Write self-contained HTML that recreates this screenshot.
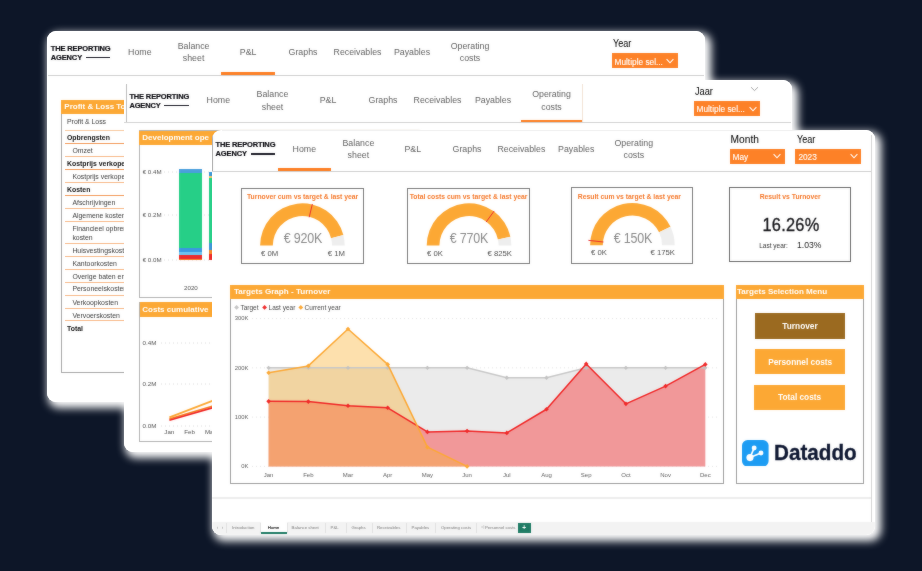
<!DOCTYPE html>
<html lang="en"><head><meta charset="utf-8"><title>Dataddo – The Reporting Agency dashboards</title>
<style>
html,body{margin:0;padding:0;}
body{width:922px;height:571px;overflow:hidden;background:#0d1628;font-family:"Liberation Sans", sans-serif;position:relative;}
.stage{position:absolute;left:0;top:0;width:922px;height:571px;overflow:hidden;}
.panel{position:absolute;background:#fff;overflow:hidden;}
.glow{position:absolute;background:#fff;box-shadow:3.6px 4px 8.5px 2px rgba(255,255,255,1);}
.in{position:absolute;width:922px;height:571px;filter:url(#sb);}
.t{position:absolute;white-space:nowrap;line-height:1;display:block;}
.r{position:absolute;display:block;}
</style></head><body><svg width="0" height="0" style="position:absolute"><defs><filter id="sb" x="0" y="0" width="100%" height="100%" color-interpolation-filters="sRGB"><feGaussianBlur in="SourceGraphic" stdDeviation="0.8" result="b"/><feComposite in="SourceGraphic" in2="b" operator="arithmetic" k1="0" k2="0.7" k3="0.3" k4="0"/></filter></defs></svg><div class="stage">
<div class="glow" style="left:47.4px;top:31.2px;width:657.6px;height:370.5px;border-radius:9px;"></div>
<div class="panel" style="left:47.4px;top:31.2px;width:657.6px;height:370.5px;border-radius:9px;z-index:1"><div class="in" style="left:-47.4px;top:-31.2px"><span class="t" style="left:50.80px;top:48.70px;font-size:7.5px;color:#0c0c12;font-weight:700;transform:translate(0,-50%);transform-origin:left center;letter-spacing:-0.15px;-webkit-text-stroke:0.2px #0c0c12;">THE REPORTING</span><span class="t" style="left:50.80px;top:57.60px;font-size:7.5px;color:#0c0c12;font-weight:700;transform:translate(0,-50%);transform-origin:left center;letter-spacing:-0.15px;-webkit-text-stroke:0.2px #0c0c12;">AGENCY</span><div class="r" style="left:85.80px;top:56.70px;width:24.60px;height:1.40px;background:#1c1c26;"></div><span class="t" style="left:139.80px;top:52.20px;font-size:8.8px;color:#626262;font-weight:400;transform:translate(-50%,-50%);transform-origin:center center;text-align:center;line-height:12.3px;">Home</span><span class="t" style="left:193.60px;top:52.20px;font-size:8.8px;color:#626262;font-weight:400;transform:translate(-50%,-50%);transform-origin:center center;text-align:center;line-height:12.3px;">Balance<br>sheet</span><span class="t" style="left:248.20px;top:52.20px;font-size:8.8px;color:#626262;font-weight:400;transform:translate(-50%,-50%);transform-origin:center center;text-align:center;line-height:12.3px;">P&amp;L</span><span class="t" style="left:303.00px;top:52.20px;font-size:8.8px;color:#626262;font-weight:400;transform:translate(-50%,-50%);transform-origin:center center;text-align:center;line-height:12.3px;">Graphs</span><span class="t" style="left:357.50px;top:52.20px;font-size:8.8px;color:#626262;font-weight:400;transform:translate(-50%,-50%);transform-origin:center center;text-align:center;line-height:12.3px;">Receivables</span><span class="t" style="left:412.00px;top:52.20px;font-size:8.8px;color:#626262;font-weight:400;transform:translate(-50%,-50%);transform-origin:center center;text-align:center;line-height:12.3px;">Payables</span><span class="t" style="left:470.00px;top:52.20px;font-size:8.8px;color:#626262;font-weight:400;transform:translate(-50%,-50%);transform-origin:center center;text-align:center;line-height:12.3px;">Operating<br>costs</span><div class="r" style="left:220.50px;top:71.80px;width:54.50px;height:2.80px;background:#fd7e22;"></div><div class="r" style="left:48.00px;top:74.60px;width:656.00px;height:0.80px;background:#cfcfcf;"></div><span class="t" style="left:612.50px;top:43.90px;font-size:10.2px;color:#0a0a0a;font-weight:400;transform:translate(0,-50%) scaleX(0.89);transform-origin:left center;-webkit-text-stroke:0.05px #0a0a0a;">Year</span><div class="r" style="left:611.50px;top:53.30px;width:66.00px;height:14.70px;background:#fd8127;"></div><span class="t" style="left:614.50px;top:61.65px;font-size:8.3px;color:#fff;font-weight:400;transform:translate(0,-50%);transform-origin:left center;-webkit-text-stroke:0.12px #fff;">Multiple sel...</span><svg class="r" style="left:666.30px;top:57.95px;width:8px;height:6px" viewBox="0 0 8 6"><path d="M0.6 1.2 L4 4.8 L7.4 1.2" fill="none" stroke="#fff" stroke-width="1.1"/></svg><div class="r" style="left:61.20px;top:99.80px;width:198.80px;height:273.00px;background:#fff;border:1px solid #a8a8a8;box-sizing:border-box;"></div><div class="r" style="left:61.20px;top:99.80px;width:198.80px;height:13.80px;background:#fca834;"></div><span class="t" style="left:64.30px;top:106.80px;font-size:8.0px;color:#fff;font-weight:700;transform:translate(0,-50%);transform-origin:left center;">Profit &amp; Loss To</span><span class="t" style="left:67.00px;top:121.70px;font-size:6.9px;color:#3a3a3a;font-weight:400;transform:translate(0,-50%);transform-origin:left center;">Profit &amp; Loss</span><div class="r" style="left:64.50px;top:129.80px;width:195.50px;height:0.80px;background:#f7c9a0;"></div><span class="t" style="left:67.00px;top:136.60px;font-size:6.9px;color:#111;font-weight:700;transform:translate(0,-50%);transform-origin:left center;line-height:9px;">Opbrengsten</span><div class="r" style="left:64.50px;top:142.90px;width:195.50px;height:0.80px;background:#f39a5a;"></div><span class="t" style="left:72.40px;top:150.00px;font-size:6.9px;color:#3a3a3a;font-weight:400;transform:translate(0,-50%);transform-origin:left center;line-height:9px;">Omzet</span><div class="r" style="left:64.50px;top:156.10px;width:195.50px;height:0.80px;background:#f7b98a;"></div><span class="t" style="left:67.00px;top:162.80px;font-size:6.9px;color:#111;font-weight:700;transform:translate(0,-50%);transform-origin:left center;line-height:9px;">Kostprijs verkope</span><div class="r" style="left:64.50px;top:169.20px;width:195.50px;height:0.80px;background:#f39a5a;"></div><span class="t" style="left:72.40px;top:176.20px;font-size:6.9px;color:#3a3a3a;font-weight:400;transform:translate(0,-50%);transform-origin:left center;line-height:9px;">Kostprijs verkope</span><div class="r" style="left:64.50px;top:182.00px;width:195.50px;height:0.80px;background:#f7b98a;"></div><span class="t" style="left:67.00px;top:189.30px;font-size:6.9px;color:#111;font-weight:700;transform:translate(0,-50%);transform-origin:left center;line-height:9px;">Kosten</span><div class="r" style="left:64.50px;top:195.00px;width:195.50px;height:0.80px;background:#f39a5a;"></div><span class="t" style="left:72.40px;top:202.20px;font-size:6.9px;color:#3a3a3a;font-weight:400;transform:translate(0,-50%);transform-origin:left center;line-height:9px;">Afschrijvingen</span><div class="r" style="left:64.50px;top:208.00px;width:195.50px;height:0.80px;background:#f7b98a;"></div><span class="t" style="left:72.40px;top:215.20px;font-size:6.9px;color:#3a3a3a;font-weight:400;transform:translate(0,-50%);transform-origin:left center;line-height:9px;">Algemene kosten</span><div class="r" style="left:64.50px;top:220.90px;width:195.50px;height:0.80px;background:#f7b98a;"></div><span class="t" style="left:72.40px;top:233.00px;font-size:6.9px;color:#3a3a3a;font-weight:400;transform:translate(0,-50%);transform-origin:left center;line-height:9px;">Financieel opbren<br>kosten</span><div class="r" style="left:64.50px;top:242.90px;width:195.50px;height:0.80px;background:#f7b98a;"></div><span class="t" style="left:72.40px;top:250.10px;font-size:6.9px;color:#3a3a3a;font-weight:400;transform:translate(0,-50%);transform-origin:left center;line-height:9px;">Huisvestingskosten</span><div class="r" style="left:64.50px;top:255.90px;width:195.50px;height:0.80px;background:#f7b98a;"></div><span class="t" style="left:72.40px;top:262.60px;font-size:6.9px;color:#3a3a3a;font-weight:400;transform:translate(0,-50%);transform-origin:left center;line-height:9px;">Kantoorkosten</span><div class="r" style="left:64.50px;top:269.30px;width:195.50px;height:0.80px;background:#f7b98a;"></div><span class="t" style="left:72.40px;top:275.60px;font-size:6.9px;color:#3a3a3a;font-weight:400;transform:translate(0,-50%);transform-origin:left center;line-height:9px;">Overige baten en</span><div class="r" style="left:64.50px;top:282.10px;width:195.50px;height:0.80px;background:#f7b98a;"></div><span class="t" style="left:72.40px;top:287.90px;font-size:6.9px;color:#3a3a3a;font-weight:400;transform:translate(0,-50%);transform-origin:left center;line-height:9px;">Personeelskosten</span><div class="r" style="left:64.50px;top:295.10px;width:195.50px;height:0.80px;background:#f7b98a;"></div><span class="t" style="left:72.40px;top:301.60px;font-size:6.9px;color:#3a3a3a;font-weight:400;transform:translate(0,-50%);transform-origin:left center;line-height:9px;">Verkoopkosten</span><div class="r" style="left:64.50px;top:308.00px;width:195.50px;height:0.80px;background:#f7b98a;"></div><span class="t" style="left:72.40px;top:314.80px;font-size:6.9px;color:#3a3a3a;font-weight:400;transform:translate(0,-50%);transform-origin:left center;line-height:9px;">Vervoerskosten</span><div class="r" style="left:64.50px;top:320.40px;width:195.50px;height:0.80px;background:#f7b98a;"></div><span class="t" style="left:67.00px;top:327.60px;font-size:6.9px;color:#111;font-weight:700;transform:translate(0,-50%);transform-origin:left center;line-height:9px;">Total</span></div></div>
<div class="glow" style="left:124px;top:79.8px;width:667.7px;height:371.8px;border-radius:9px;"></div>
<div class="panel" style="left:124px;top:79.8px;width:667.7px;height:371.8px;border-radius:9px;z-index:1"><div class="in" style="left:-124px;top:-79.8px"><div class="r" style="left:126.00px;top:83.50px;width:0.80px;height:38.50px;background:#bdbdbd;"></div><span class="t" style="left:129.40px;top:96.60px;font-size:7.5px;color:#0c0c12;font-weight:700;transform:translate(0,-50%);transform-origin:left center;letter-spacing:-0.15px;-webkit-text-stroke:0.2px #0c0c12;">THE REPORTING</span><span class="t" style="left:129.40px;top:105.50px;font-size:7.5px;color:#0c0c12;font-weight:700;transform:translate(0,-50%);transform-origin:left center;letter-spacing:-0.15px;-webkit-text-stroke:0.2px #0c0c12;">AGENCY</span><div class="r" style="left:164.40px;top:104.60px;width:24.60px;height:1.40px;background:#1c1c26;"></div><span class="t" style="left:218.30px;top:100.30px;font-size:8.8px;color:#626262;font-weight:400;transform:translate(-50%,-50%);transform-origin:center center;text-align:center;line-height:12.3px;">Home</span><span class="t" style="left:272.50px;top:100.30px;font-size:8.8px;color:#626262;font-weight:400;transform:translate(-50%,-50%);transform-origin:center center;text-align:center;line-height:12.3px;">Balance<br>sheet</span><span class="t" style="left:328.00px;top:100.30px;font-size:8.8px;color:#626262;font-weight:400;transform:translate(-50%,-50%);transform-origin:center center;text-align:center;line-height:12.3px;">P&amp;L</span><span class="t" style="left:383.00px;top:100.30px;font-size:8.8px;color:#626262;font-weight:400;transform:translate(-50%,-50%);transform-origin:center center;text-align:center;line-height:12.3px;">Graphs</span><span class="t" style="left:437.50px;top:100.30px;font-size:8.8px;color:#626262;font-weight:400;transform:translate(-50%,-50%);transform-origin:center center;text-align:center;line-height:12.3px;">Receivables</span><span class="t" style="left:493.00px;top:100.30px;font-size:8.8px;color:#626262;font-weight:400;transform:translate(-50%,-50%);transform-origin:center center;text-align:center;line-height:12.3px;">Payables</span><span class="t" style="left:551.50px;top:100.30px;font-size:8.8px;color:#626262;font-weight:400;transform:translate(-50%,-50%);transform-origin:center center;text-align:center;line-height:12.3px;">Operating<br>costs</span><div class="r" style="left:521.00px;top:119.80px;width:61.50px;height:2.40px;background:#fd7e22;"></div><div class="r" style="left:124.00px;top:122.00px;width:667.00px;height:0.90px;background:#d2d2d2;"></div><div class="r" style="left:582.30px;top:84.00px;width:0.60px;height:38.00px;background:#f3e3d6;"></div><span class="t" style="left:695.00px;top:91.80px;font-size:10.2px;color:#0a0a0a;font-weight:400;transform:translate(0,-50%) scaleX(0.9);transform-origin:left center;-webkit-text-stroke:0.05px #0a0a0a;">Jaar</span><svg class="r" style="left:750px;top:85.5px;width:9px;height:6px" viewBox="0 0 9 6"><path d="M1 1.2 L4.5 4.6 L8 1.2" fill="none" stroke="#9a9a9a" stroke-width="0.9"/></svg><div class="r" style="left:693.50px;top:101.00px;width:66.30px;height:14.80px;background:#fd8127;"></div><span class="t" style="left:696.50px;top:109.40px;font-size:8.3px;color:#fff;font-weight:400;transform:translate(0,-50%);transform-origin:left center;-webkit-text-stroke:0.12px #fff;">Multiple sel...</span><svg class="r" style="left:748.60px;top:105.70px;width:8px;height:6px" viewBox="0 0 8 6"><path d="M0.6 1.2 L4 4.8 L7.4 1.2" fill="none" stroke="#fff" stroke-width="1.1"/></svg><div class="r" style="left:139.00px;top:130.20px;width:281.00px;height:167.60px;background:#fff;border:1px solid #b4b4b4;box-sizing:border-box;"></div><div class="r" style="left:139.00px;top:130.50px;width:281.00px;height:14.20px;background:#fca834;"></div><span class="t" style="left:142.30px;top:137.80px;font-size:8.0px;color:#fff;font-weight:700;transform:translate(0,-50%);transform-origin:left center;">Development ope</span><span class="t" style="left:142.70px;top:171.70px;font-size:6.2px;color:#505050;font-weight:400;transform:translate(0,-50%);transform-origin:left center;">€ 0.4M</span><svg class="r" style="left:164.00px;top:170.70px;width:256.00px;height:2px" viewBox="0 0 256.00 2"><path d="M0 1 H256.00" stroke="#d8d8d8" stroke-width="0.9" stroke-dasharray="1 3"/></svg><span class="t" style="left:142.70px;top:215.40px;font-size:6.2px;color:#505050;font-weight:400;transform:translate(0,-50%);transform-origin:left center;">€ 0.2M</span><svg class="r" style="left:164.00px;top:214.40px;width:256.00px;height:2px" viewBox="0 0 256.00 2"><path d="M0 1 H256.00" stroke="#d8d8d8" stroke-width="0.9" stroke-dasharray="1 3"/></svg><span class="t" style="left:142.70px;top:259.50px;font-size:6.2px;color:#505050;font-weight:400;transform:translate(0,-50%);transform-origin:left center;">€ 0.0M</span><svg class="r" style="left:164.00px;top:258.50px;width:256.00px;height:2px" viewBox="0 0 256.00 2"><path d="M0 1 H256.00" stroke="#d8d8d8" stroke-width="0.9" stroke-dasharray="1 3"/></svg><div class="r" style="left:179.00px;top:169.40px;width:23.20px;height:90.60px;background:#26cf87;"></div><div class="r" style="left:179.00px;top:169.40px;width:23.20px;height:4.00px;background:#4a9fdc;"></div><div class="r" style="left:179.00px;top:248.40px;width:23.20px;height:3.60px;background:#3a98e0;"></div><div class="r" style="left:179.00px;top:252.00px;width:23.20px;height:3.20px;background:#6cc6f0;"></div><div class="r" style="left:179.00px;top:255.20px;width:23.20px;height:4.00px;background:#ee2a2a;"></div><div class="r" style="left:179.00px;top:259.20px;width:23.20px;height:0.80px;background:#f47b20;"></div><div class="r" style="left:208.90px;top:171.50px;width:3.70px;height:4.50px;background:#3a96d6;"></div><div class="r" style="left:208.90px;top:176.00px;width:3.70px;height:2.00px;background:#f3c86a;"></div><div class="r" style="left:208.90px;top:178.00px;width:3.70px;height:65.00px;background:#26cf87;"></div><div class="r" style="left:208.90px;top:243.00px;width:3.70px;height:6.50px;background:#3a96d6;"></div><div class="r" style="left:208.90px;top:249.50px;width:3.70px;height:4.50px;background:#f58a2a;"></div><div class="r" style="left:208.90px;top:254.00px;width:3.70px;height:5.50px;background:#ee2a2a;"></div><span class="t" style="left:190.90px;top:287.70px;font-size:6.2px;color:#505050;font-weight:400;transform:translate(-50%,-50%);transform-origin:center center;">2020</span><div class="r" style="left:139.00px;top:301.60px;width:281.00px;height:140.00px;background:#fff;border:1px solid #b4b4b4;box-sizing:border-box;"></div><div class="r" style="left:139.60px;top:302.40px;width:280.40px;height:14.20px;background:#fca834;"></div><span class="t" style="left:142.30px;top:309.60px;font-size:8.0px;color:#fff;font-weight:700;transform:translate(0,-50%);transform-origin:left center;">Costs cumulative</span><span class="t" style="left:142.60px;top:342.50px;font-size:6.2px;color:#505050;font-weight:400;transform:translate(0,-50%);transform-origin:left center;">0.4M</span><svg class="r" style="left:160.50px;top:341.70px;width:259.50px;height:2px" viewBox="0 0 259.50 2"><path d="M0 1 H259.50" stroke="#d8d8d8" stroke-width="0.9" stroke-dasharray="1 3"/></svg><span class="t" style="left:142.60px;top:384.10px;font-size:6.2px;color:#505050;font-weight:400;transform:translate(0,-50%);transform-origin:left center;">0.2M</span><svg class="r" style="left:160.50px;top:383.30px;width:259.50px;height:2px" viewBox="0 0 259.50 2"><path d="M0 1 H259.50" stroke="#d8d8d8" stroke-width="0.9" stroke-dasharray="1 3"/></svg><span class="t" style="left:142.60px;top:425.60px;font-size:6.2px;color:#505050;font-weight:400;transform:translate(0,-50%);transform-origin:left center;">0.0M</span><svg class="r" style="left:160.50px;top:424.80px;width:259.50px;height:2px" viewBox="0 0 259.50 2"><path d="M0 1 H259.50" stroke="#d8d8d8" stroke-width="0.9" stroke-dasharray="1 3"/></svg><span class="t" style="left:169.30px;top:431.80px;font-size:6.2px;color:#505050;font-weight:400;transform:translate(-50%,-50%);transform-origin:center center;">Jan</span><span class="t" style="left:189.60px;top:431.80px;font-size:6.2px;color:#505050;font-weight:400;transform:translate(-50%,-50%);transform-origin:center center;">Feb</span><span class="t" style="left:204.95px;top:431.80px;font-size:6.2px;color:#505050;font-weight:400;transform:translate(0,-50%);transform-origin:left center;">Ma</span><svg class="r" style="left:0;top:0;width:922px;height:571px" viewBox="0 0 922 571"><path d="M169.4 417.4 L213 400.6" stroke="#fca834" stroke-width="1.9" fill="none"/><path d="M169.4 419.0 L213 406.0" stroke="#f6801f" stroke-width="1.6" fill="none"/><path d="M169.4 420.2 L213 407.6" stroke="#f02626" stroke-width="1.7" fill="none"/></svg></div></div>
<div class="glow" style="left:212px;top:130px;width:663px;height:404.8px;border-radius:9px;"></div>
<div class="panel" style="left:212px;top:130px;width:663px;height:404.79999999999995px;border-radius:9px;z-index:1"><div class="in" style="left:-212px;top:-130px"><div class="r" style="left:212.00px;top:134.00px;width:0.90px;height:37.00px;background:#a0a0a0;"></div><div class="r" style="left:222.00px;top:130.00px;width:618.00px;height:0.70px;background:#ededed;"></div><span class="t" style="left:215.60px;top:145.20px;font-size:7.5px;color:#0c0c12;font-weight:700;transform:translate(0,-50%);transform-origin:left center;letter-spacing:-0.15px;-webkit-text-stroke:0.2px #0c0c12;">THE REPORTING</span><span class="t" style="left:215.60px;top:154.10px;font-size:7.5px;color:#0c0c12;font-weight:700;transform:translate(0,-50%);transform-origin:left center;letter-spacing:-0.15px;-webkit-text-stroke:0.2px #0c0c12;">AGENCY</span><div class="r" style="left:250.60px;top:153.20px;width:24.60px;height:1.40px;background:#1c1c26;"></div><span class="t" style="left:304.30px;top:148.70px;font-size:8.8px;color:#626262;font-weight:400;transform:translate(-50%,-50%);transform-origin:center center;text-align:center;line-height:12.3px;">Home</span><span class="t" style="left:358.40px;top:148.70px;font-size:8.8px;color:#626262;font-weight:400;transform:translate(-50%,-50%);transform-origin:center center;text-align:center;line-height:12.3px;">Balance<br>sheet</span><span class="t" style="left:412.80px;top:148.70px;font-size:8.8px;color:#626262;font-weight:400;transform:translate(-50%,-50%);transform-origin:center center;text-align:center;line-height:12.3px;">P&amp;L</span><span class="t" style="left:467.00px;top:148.70px;font-size:8.8px;color:#626262;font-weight:400;transform:translate(-50%,-50%);transform-origin:center center;text-align:center;line-height:12.3px;">Graphs</span><span class="t" style="left:521.40px;top:148.70px;font-size:8.8px;color:#626262;font-weight:400;transform:translate(-50%,-50%);transform-origin:center center;text-align:center;line-height:12.3px;">Receivables</span><span class="t" style="left:576.20px;top:148.70px;font-size:8.8px;color:#626262;font-weight:400;transform:translate(-50%,-50%);transform-origin:center center;text-align:center;line-height:12.3px;">Payables</span><span class="t" style="left:633.80px;top:148.70px;font-size:8.8px;color:#626262;font-weight:400;transform:translate(-50%,-50%);transform-origin:center center;text-align:center;line-height:12.3px;">Operating<br>costs</span><div class="r" style="left:277.80px;top:168.40px;width:52.90px;height:2.40px;background:#fd7e22;"></div><div class="r" style="left:212.00px;top:170.70px;width:659.40px;height:1.00px;background:#d0d0d0;"></div><div class="r" style="left:870.60px;top:135.00px;width:0.80px;height:387.00px;background:#d6d6d6;"></div><span class="t" style="left:730.60px;top:139.80px;font-size:10.2px;color:#0a0a0a;font-weight:400;transform:translate(0,-50%);transform-origin:left center;-webkit-text-stroke:0.05px #0a0a0a;">Month</span><span class="t" style="left:796.60px;top:139.80px;font-size:10.2px;color:#0a0a0a;font-weight:400;transform:translate(0,-50%) scaleX(0.89);transform-origin:left center;-webkit-text-stroke:0.05px #0a0a0a;">Year</span><div class="r" style="left:729.60px;top:148.60px;width:55.00px;height:15.00px;background:#fd8127;"></div><span class="t" style="left:732.60px;top:157.10px;font-size:8.3px;color:#fff;font-weight:400;transform:translate(0,-50%);transform-origin:left center;-webkit-text-stroke:0.12px #fff;">May</span><svg class="r" style="left:773.40px;top:153.40px;width:8px;height:6px" viewBox="0 0 8 6"><path d="M0.6 1.2 L4 4.8 L7.4 1.2" fill="none" stroke="#fff" stroke-width="1.1"/></svg><div class="r" style="left:795.40px;top:148.60px;width:65.80px;height:15.00px;background:#fd8127;"></div><span class="t" style="left:798.40px;top:157.10px;font-size:8.3px;color:#fff;font-weight:400;transform:translate(0,-50%);transform-origin:left center;-webkit-text-stroke:0.12px #fff;">2023</span><svg class="r" style="left:850.00px;top:153.40px;width:8px;height:6px" viewBox="0 0 8 6"><path d="M0.6 1.2 L4 4.8 L7.4 1.2" fill="none" stroke="#fff" stroke-width="1.1"/></svg><div class="r" style="left:241.40px;top:187.80px;width:122.40px;height:76.20px;background:#fff;border:1px solid #7c7c7c;box-sizing:border-box;"></div><span class="t" style="left:302.60px;top:197.20px;font-size:6.8px;color:#f5782a;font-weight:700;transform:translate(-50%,-50%);transform-origin:center center;">Turnover cum vs target &amp; last year</span><svg class="r" style="left:0;top:0;width:922px;height:571px" viewBox="0 0 922 571"><path d="M260.10 245.60 A42.3 42.3 0 0 1 343.37 235.08 L331.07 238.24 A29.6 29.6 0 0 0 272.80 245.60 Z" fill="#fca834"/><path d="M343.37 235.08 A42.3 42.3 0 0 1 344.70 245.60 L332.00 245.60 A29.6 29.6 0 0 0 331.07 238.24 Z" fill="#eeeeee"/><path d="M309.19 217.30 L312.39 203.98" stroke="#e8202a" stroke-width="0.9"/></svg><span class="t" style="left:302.60px;top:238.40px;font-size:14.0px;color:#8a8a8a;font-weight:400;transform:translate(-50%,-50%) scaleX(0.89);transform-origin:center center;letter-spacing:-0.2px;">€ 920K</span><span class="t" style="left:260.50px;top:253.70px;font-size:7.3px;color:#505050;font-weight:400;transform:translate(0,-50%) scaleX(1.06);transform-origin:left center;">€ 0M</span><span class="t" style="left:345.10px;top:253.70px;font-size:7.3px;color:#505050;font-weight:400;transform:translate(-100%,-50%) scaleX(1.06);transform-origin:right center;">€ 1M</span><div class="r" style="left:407.20px;top:187.80px;width:122.60px;height:76.20px;background:#fff;border:1px solid #7c7c7c;box-sizing:border-box;"></div><span class="t" style="left:468.50px;top:197.20px;font-size:6.8px;color:#f5782a;font-weight:700;transform:translate(-50%,-50%);transform-origin:center center;">Total costs cum vs target &amp; last year</span><svg class="r" style="left:0;top:0;width:922px;height:571px" viewBox="0 0 922 571"><path d="M426.70 245.60 A42.3 42.3 0 0 1 510.37 236.76 L497.95 239.42 A29.6 29.6 0 0 0 439.40 245.60 Z" fill="#fca834"/><path d="M510.37 236.76 A42.3 42.3 0 0 1 511.30 245.60 L498.60 245.60 A29.6 29.6 0 0 0 497.95 239.42 Z" fill="#eeeeee"/><path d="M486.10 222.06 L494.16 210.97" stroke="#e8202a" stroke-width="0.9"/></svg><span class="t" style="left:469.20px;top:238.40px;font-size:14.0px;color:#8a8a8a;font-weight:400;transform:translate(-50%,-50%) scaleX(0.89);transform-origin:center center;letter-spacing:-0.2px;">€ 770K</span><span class="t" style="left:427.10px;top:253.70px;font-size:7.3px;color:#505050;font-weight:400;transform:translate(0,-50%) scaleX(1.06);transform-origin:left center;">€ 0K</span><span class="t" style="left:511.70px;top:253.70px;font-size:7.3px;color:#505050;font-weight:400;transform:translate(-100%,-50%) scaleX(1.06);transform-origin:right center;">€ 825K</span><div class="r" style="left:571.40px;top:187.40px;width:122.00px;height:76.20px;background:#fff;border:1px solid #7c7c7c;box-sizing:border-box;"></div><span class="t" style="left:629.40px;top:196.80px;font-size:6.8px;color:#f5782a;font-weight:700;transform:translate(-50%,-50%);transform-origin:center center;">Result cum vs target &amp; last year</span><svg class="r" style="left:0;top:0;width:922px;height:571px" viewBox="0 0 922 571"><path d="M590.10 245.20 A42.3 42.3 0 0 1 670.50 226.83 L659.06 232.35 A29.6 29.6 0 0 0 602.80 245.20 Z" fill="#fca834"/><path d="M670.50 226.83 A42.3 42.3 0 0 1 674.70 245.20 L662.00 245.20 A29.6 29.6 0 0 0 659.06 232.35 Z" fill="#eeeeee"/><path d="M603.48 242.01 L588.37 240.34" stroke="#e8202a" stroke-width="0.9"/></svg><span class="t" style="left:632.60px;top:238.00px;font-size:14.0px;color:#8a8a8a;font-weight:400;transform:translate(-50%,-50%) scaleX(0.89);transform-origin:center center;letter-spacing:-0.2px;">€ 150K</span><span class="t" style="left:590.50px;top:253.30px;font-size:7.3px;color:#505050;font-weight:400;transform:translate(0,-50%) scaleX(1.06);transform-origin:left center;">€ 0K</span><span class="t" style="left:675.10px;top:253.30px;font-size:7.3px;color:#505050;font-weight:400;transform:translate(-100%,-50%) scaleX(1.06);transform-origin:right center;">€ 175K</span><div class="r" style="left:728.80px;top:187.20px;width:121.80px;height:75.20px;background:#fff;border:1px solid #6c6c6c;box-sizing:border-box;"></div><span class="t" style="left:790.20px;top:197.00px;font-size:6.8px;color:#f5782a;font-weight:700;transform:translate(-50%,-50%);transform-origin:center center;">Result vs Turnover</span><span class="t" style="left:790.60px;top:225.00px;font-size:18.4px;color:#16161a;font-weight:400;transform:translate(-50%,-50%) scaleX(0.89);transform-origin:center center;letter-spacing:0.3px;-webkit-text-stroke:0.35px #16161a;">16.26%</span><span class="t" style="left:787.80px;top:246.30px;font-size:6.5px;color:#333;font-weight:400;transform:translate(-100%,-50%);transform-origin:right center;">Last year:</span><span class="t" style="left:796.60px;top:245.00px;font-size:9.4px;color:#222;font-weight:400;transform:translate(0,-50%) scaleX(0.92);transform-origin:left center;">1.03%</span><div class="r" style="left:230.40px;top:285.00px;width:494.00px;height:199.30px;background:#fff;border:1px solid #a0a0a0;box-sizing:border-box;"></div><div class="r" style="left:230.40px;top:285.00px;width:494.00px;height:14.00px;background:#fca834;"></div><span class="t" style="left:234.00px;top:292.20px;font-size:8.1px;color:#fff;font-weight:700;transform:translate(0,-50%);transform-origin:left center;">Targets Graph - Turnover</span><svg class="r" style="left:0;top:0;width:922px;height:571px" viewBox="0 0 922 571"><path d="M252 466.40 H718" stroke="#dedede" stroke-width="0.8" stroke-dasharray="1 3"/><path d="M252 417.13 H718" stroke="#dedede" stroke-width="0.8" stroke-dasharray="1 3"/><path d="M252 367.86 H718" stroke="#dedede" stroke-width="0.8" stroke-dasharray="1 3"/><path d="M252 318.59 H718" stroke="#dedede" stroke-width="0.8" stroke-dasharray="1 3"/><polygon points="268.60,466.40 268.60,367.86 308.30,367.86 348.00,367.86 387.70,367.86 427.40,367.86 467.10,367.86 506.80,377.71 546.50,377.71 586.20,367.86 625.90,367.86 665.60,367.86 705.30,367.86 705.30,466.40" fill="#ebebeb"/><polygon points="268.60,466.40 268.60,401.36 308.30,401.61 348.00,405.80 387.70,407.77 427.40,431.91 467.10,430.93 506.80,432.90 546.50,409.25 586.20,363.92 625.90,403.83 665.60,386.09 705.30,364.41 705.30,466.40" fill="#fa1c1e" fill-opacity="0.4"/><polygon points="268.60,466.40 268.60,372.79 308.30,365.89 348.00,328.94 387.70,364.41 427.40,447.18 467.10,466.40 467.10,466.40" fill="#fab232" fill-opacity="0.4"/><polyline points="268.60,367.86 308.30,367.86 348.00,367.86 387.70,367.86 427.40,367.86 467.10,367.86 506.80,377.71 546.50,377.71 586.20,367.86 625.90,367.86 665.60,367.86 705.30,367.86" fill="none" stroke="#c8c8c8" stroke-width="1.5"/><path d="M266.40 367.86 L268.60 365.66 L270.80 367.86 L268.60 370.06 Z" fill="#c2c2c2"/><path d="M306.10 367.86 L308.30 365.66 L310.50 367.86 L308.30 370.06 Z" fill="#c2c2c2"/><path d="M345.80 367.86 L348.00 365.66 L350.20 367.86 L348.00 370.06 Z" fill="#c2c2c2"/><path d="M385.50 367.86 L387.70 365.66 L389.90 367.86 L387.70 370.06 Z" fill="#c2c2c2"/><path d="M425.20 367.86 L427.40 365.66 L429.60 367.86 L427.40 370.06 Z" fill="#c2c2c2"/><path d="M464.90 367.86 L467.10 365.66 L469.30 367.86 L467.10 370.06 Z" fill="#c2c2c2"/><path d="M504.60 377.71 L506.80 375.51 L509.00 377.71 L506.80 379.91 Z" fill="#c2c2c2"/><path d="M544.30 377.71 L546.50 375.51 L548.70 377.71 L546.50 379.91 Z" fill="#c2c2c2"/><path d="M584.00 367.86 L586.20 365.66 L588.40 367.86 L586.20 370.06 Z" fill="#c2c2c2"/><path d="M623.70 367.86 L625.90 365.66 L628.10 367.86 L625.90 370.06 Z" fill="#c2c2c2"/><path d="M663.40 367.86 L665.60 365.66 L667.80 367.86 L665.60 370.06 Z" fill="#c2c2c2"/><path d="M703.10 367.86 L705.30 365.66 L707.50 367.86 L705.30 370.06 Z" fill="#c2c2c2"/><polyline points="268.60,401.36 308.30,401.61 348.00,405.80 387.70,407.77 427.40,431.91 467.10,430.93 506.80,432.90 546.50,409.25 586.20,363.92 625.90,403.83 665.60,386.09 705.30,364.41" fill="none" stroke="#f02626" stroke-width="1.5" stroke-linejoin="round"/><path d="M266.30 401.36 L268.60 399.06 L270.90 401.36 L268.60 403.66 Z" fill="#f02626"/><path d="M306.00 401.61 L308.30 399.31 L310.60 401.61 L308.30 403.91 Z" fill="#f02626"/><path d="M345.70 405.80 L348.00 403.50 L350.30 405.80 L348.00 408.10 Z" fill="#f02626"/><path d="M385.40 407.77 L387.70 405.47 L390.00 407.77 L387.70 410.07 Z" fill="#f02626"/><path d="M425.10 431.91 L427.40 429.61 L429.70 431.91 L427.40 434.21 Z" fill="#f02626"/><path d="M464.80 430.93 L467.10 428.63 L469.40 430.93 L467.10 433.23 Z" fill="#f02626"/><path d="M504.50 432.90 L506.80 430.60 L509.10 432.90 L506.80 435.20 Z" fill="#f02626"/><path d="M544.20 409.25 L546.50 406.95 L548.80 409.25 L546.50 411.55 Z" fill="#f02626"/><path d="M583.90 363.92 L586.20 361.62 L588.50 363.92 L586.20 366.22 Z" fill="#f02626"/><path d="M623.60 403.83 L625.90 401.53 L628.20 403.83 L625.90 406.13 Z" fill="#f02626"/><path d="M663.30 386.09 L665.60 383.79 L667.90 386.09 L665.60 388.39 Z" fill="#f02626"/><path d="M703.00 364.41 L705.30 362.11 L707.60 364.41 L705.30 366.71 Z" fill="#f02626"/><polyline points="268.60,372.79 308.30,365.89 348.00,328.94 387.70,364.41 427.40,447.18 467.10,466.40" fill="none" stroke="#fca834" stroke-width="1.5" stroke-linejoin="round"/><path d="M266.30 372.79 L268.60 370.49 L270.90 372.79 L268.60 375.09 Z" fill="#fca834"/><path d="M306.00 365.89 L308.30 363.59 L310.60 365.89 L308.30 368.19 Z" fill="#fca834"/><path d="M345.70 328.94 L348.00 326.64 L350.30 328.94 L348.00 331.24 Z" fill="#fca834"/><path d="M385.40 364.41 L387.70 362.11 L390.00 364.41 L387.70 366.71 Z" fill="#fca834"/><path d="M425.10 447.18 L427.40 444.88 L429.70 447.18 L427.40 449.48 Z" fill="#fca834"/><path d="M464.80 466.40 L467.10 464.10 L469.40 466.40 L467.10 468.70 Z" fill="#fca834"/><path d="M234.2 307.4 L236.6 305.0 L239.0 307.4 L236.6 309.8 Z" fill="#c4c4c4"/><path d="M262.20000000000005 307.4 L264.6 305.0 L267.0 307.4 L264.6 309.8 Z" fill="#ee2a2a"/><path d="M298.40000000000003 307.4 L300.8 305.0 L303.2 307.4 L300.8 309.8 Z" fill="#fca834"/></svg><span class="t" style="left:240.40px;top:307.60px;font-size:6.5px;color:#484848;font-weight:400;transform:translate(0,-50%);transform-origin:left center;">Target</span><span class="t" style="left:268.60px;top:307.60px;font-size:6.5px;color:#484848;font-weight:400;transform:translate(0,-50%);transform-origin:left center;">Last year</span><span class="t" style="left:304.60px;top:307.60px;font-size:6.5px;color:#484848;font-weight:400;transform:translate(0,-50%);transform-origin:left center;">Current year</span><span class="t" style="left:248.40px;top:466.70px;font-size:5.9px;color:#5c5c5c;font-weight:400;transform:translate(-100%,-50%);transform-origin:right center;">0K</span><span class="t" style="left:248.40px;top:417.63px;font-size:5.9px;color:#5c5c5c;font-weight:400;transform:translate(-100%,-50%);transform-origin:right center;">100K</span><span class="t" style="left:248.40px;top:368.56px;font-size:5.9px;color:#5c5c5c;font-weight:400;transform:translate(-100%,-50%);transform-origin:right center;">200K</span><span class="t" style="left:248.40px;top:319.49px;font-size:5.9px;color:#5c5c5c;font-weight:400;transform:translate(-100%,-50%);transform-origin:right center;">300K</span><span class="t" style="left:268.60px;top:474.80px;font-size:6.0px;color:#5c5c5c;font-weight:400;transform:translate(-50%,-50%);transform-origin:center center;">Jan</span><span class="t" style="left:308.30px;top:474.80px;font-size:6.0px;color:#5c5c5c;font-weight:400;transform:translate(-50%,-50%);transform-origin:center center;">Feb</span><span class="t" style="left:348.00px;top:474.80px;font-size:6.0px;color:#5c5c5c;font-weight:400;transform:translate(-50%,-50%);transform-origin:center center;">Mar</span><span class="t" style="left:387.70px;top:474.80px;font-size:6.0px;color:#5c5c5c;font-weight:400;transform:translate(-50%,-50%);transform-origin:center center;">Apr</span><span class="t" style="left:427.40px;top:474.80px;font-size:6.0px;color:#5c5c5c;font-weight:400;transform:translate(-50%,-50%);transform-origin:center center;">May</span><span class="t" style="left:467.10px;top:474.80px;font-size:6.0px;color:#5c5c5c;font-weight:400;transform:translate(-50%,-50%);transform-origin:center center;">Jun</span><span class="t" style="left:506.80px;top:474.80px;font-size:6.0px;color:#5c5c5c;font-weight:400;transform:translate(-50%,-50%);transform-origin:center center;">Jul</span><span class="t" style="left:546.50px;top:474.80px;font-size:6.0px;color:#5c5c5c;font-weight:400;transform:translate(-50%,-50%);transform-origin:center center;">Aug</span><span class="t" style="left:586.20px;top:474.80px;font-size:6.0px;color:#5c5c5c;font-weight:400;transform:translate(-50%,-50%);transform-origin:center center;">Sep</span><span class="t" style="left:625.90px;top:474.80px;font-size:6.0px;color:#5c5c5c;font-weight:400;transform:translate(-50%,-50%);transform-origin:center center;">Oct</span><span class="t" style="left:665.60px;top:474.80px;font-size:6.0px;color:#5c5c5c;font-weight:400;transform:translate(-50%,-50%);transform-origin:center center;">Nov</span><span class="t" style="left:705.30px;top:474.80px;font-size:6.0px;color:#5c5c5c;font-weight:400;transform:translate(-50%,-50%);transform-origin:center center;">Dec</span><div class="r" style="left:735.80px;top:285.00px;width:128.00px;height:199.30px;background:#fff;border:1px solid #a0a0a0;box-sizing:border-box;"></div><div class="r" style="left:735.80px;top:285.00px;width:128.00px;height:14.00px;background:#fca834;"></div><span class="t" style="left:737.00px;top:292.20px;font-size:8.1px;color:#fff;font-weight:700;transform:translate(0,-50%);transform-origin:left center;">Targets Selection Menu</span><div class="r" style="left:754.80px;top:313.00px;width:90.20px;height:25.50px;background:#9b6a20;"></div><span class="t" style="left:800.00px;top:326.10px;font-size:8.3px;color:#fff;font-weight:700;transform:translate(-50%,-50%);transform-origin:center center;">Turnover</span><div class="r" style="left:754.80px;top:348.60px;width:90.60px;height:25.40px;background:#fca834;"></div><span class="t" style="left:800.20px;top:361.70px;font-size:8.3px;color:#fff;font-weight:700;transform:translate(-50%,-50%);transform-origin:center center;">Personnel costs</span><div class="r" style="left:754.00px;top:384.80px;width:91.00px;height:25.00px;background:#fca834;"></div><span class="t" style="left:799.60px;top:397.40px;font-size:8.3px;color:#fff;font-weight:700;transform:translate(-50%,-50%);transform-origin:center center;">Total costs</span><svg class="r" style="left:742.1px;top:439.7px;width:26.6px;height:26.6px" viewBox="0 0 100 100"><rect x="0" y="0" width="100" height="100" rx="21" fill="#1c9cf3"/><path d="M45.7 30 L30 66 L71.4 49" stroke="#fff" stroke-width="6.5" fill="none" stroke-linecap="round" stroke-linejoin="round"/><circle cx="30" cy="66" r="13.5" fill="#fff"/><circle cx="45.7" cy="30" r="9.3" fill="#fff"/><circle cx="71.4" cy="49" r="9.3" fill="#fff"/></svg><span class="t" style="left:773.80px;top:452.50px;font-size:21.2px;color:#0d1630;font-weight:700;transform:translate(0,-50%) scaleX(0.975);transform-origin:left center;letter-spacing:0px;-webkit-text-stroke:0.3px #0d1630;">Dataddo</span><div class="r" style="left:212.00px;top:497.30px;width:659.00px;height:1.40px;background:#ececec;"></div><div class="r" style="left:212.00px;top:522.00px;width:664.00px;height:14.00px;background:#f3f3f3;"></div><div class="r" style="left:261.40px;top:522.40px;width:25.20px;height:11.20px;background:#fff;"></div><div class="r" style="left:261.40px;top:532.00px;width:25.20px;height:1.70px;background:#1e7b64;"></div><span class="t" style="left:243.20px;top:528.10px;font-size:4.3px;color:#777;font-weight:400;transform:translate(-50%,-50%);transform-origin:center center;">Introduction</span><span class="t" style="left:273.40px;top:528.10px;font-size:4.3px;color:#222;font-weight:400;transform:translate(-50%,-50%);transform-origin:center center;-webkit-text-stroke:0.15px #222;">Home</span><span class="t" style="left:305.20px;top:528.10px;font-size:4.3px;color:#777;font-weight:400;transform:translate(-50%,-50%);transform-origin:center center;">Balance sheet</span><span class="t" style="left:334.60px;top:528.10px;font-size:4.3px;color:#777;font-weight:400;transform:translate(-50%,-50%);transform-origin:center center;">P&amp;L</span><span class="t" style="left:358.60px;top:528.10px;font-size:4.3px;color:#777;font-weight:400;transform:translate(-50%,-50%);transform-origin:center center;">Graphs</span><span class="t" style="left:388.60px;top:528.10px;font-size:4.3px;color:#777;font-weight:400;transform:translate(-50%,-50%);transform-origin:center center;">Receivables</span><span class="t" style="left:420.40px;top:528.10px;font-size:4.3px;color:#777;font-weight:400;transform:translate(-50%,-50%);transform-origin:center center;">Payables</span><span class="t" style="left:456.00px;top:528.10px;font-size:4.3px;color:#777;font-weight:400;transform:translate(-50%,-50%);transform-origin:center center;">Operating costs</span><span class="t" style="left:500.20px;top:528.10px;font-size:4.3px;color:#777;font-weight:400;transform:translate(-50%,-50%);transform-origin:center center;">Personnel costs</span><div class="r" style="left:226.40px;top:523.40px;width:0.60px;height:9.60px;background:#e2e2e2;"></div><div class="r" style="left:260.40px;top:523.40px;width:0.60px;height:9.60px;background:#e2e2e2;"></div><div class="r" style="left:286.60px;top:523.40px;width:0.60px;height:9.60px;background:#e2e2e2;"></div><div class="r" style="left:324.60px;top:523.40px;width:0.60px;height:9.60px;background:#e2e2e2;"></div><div class="r" style="left:345.80px;top:523.40px;width:0.60px;height:9.60px;background:#e2e2e2;"></div><div class="r" style="left:371.60px;top:523.40px;width:0.60px;height:9.60px;background:#e2e2e2;"></div><div class="r" style="left:406.00px;top:523.40px;width:0.60px;height:9.60px;background:#e2e2e2;"></div><div class="r" style="left:435.00px;top:523.40px;width:0.60px;height:9.60px;background:#e2e2e2;"></div><div class="r" style="left:476.40px;top:523.40px;width:0.60px;height:9.60px;background:#e2e2e2;"></div><span class="t" style="left:482.80px;top:528.30px;font-size:3.6px;color:#777;font-weight:400;transform:translate(-50%,-50%);transform-origin:center center;">◁</span><span class="t" style="left:217.60px;top:528.20px;font-size:4.5px;color:#999;font-weight:400;transform:translate(-50%,-50%);transform-origin:center center;">‹</span><span class="t" style="left:222.60px;top:528.20px;font-size:4.5px;color:#999;font-weight:400;transform:translate(-50%,-50%);transform-origin:center center;">›</span><div class="r" style="left:517.60px;top:523.40px;width:13.20px;height:9.60px;background:#1e7b64;"></div><span class="t" style="left:524.20px;top:528.00px;font-size:6.5px;color:#fff;font-weight:700;transform:translate(-50%,-50%);transform-origin:center center;">+</span></div></div>
</div></body></html>
